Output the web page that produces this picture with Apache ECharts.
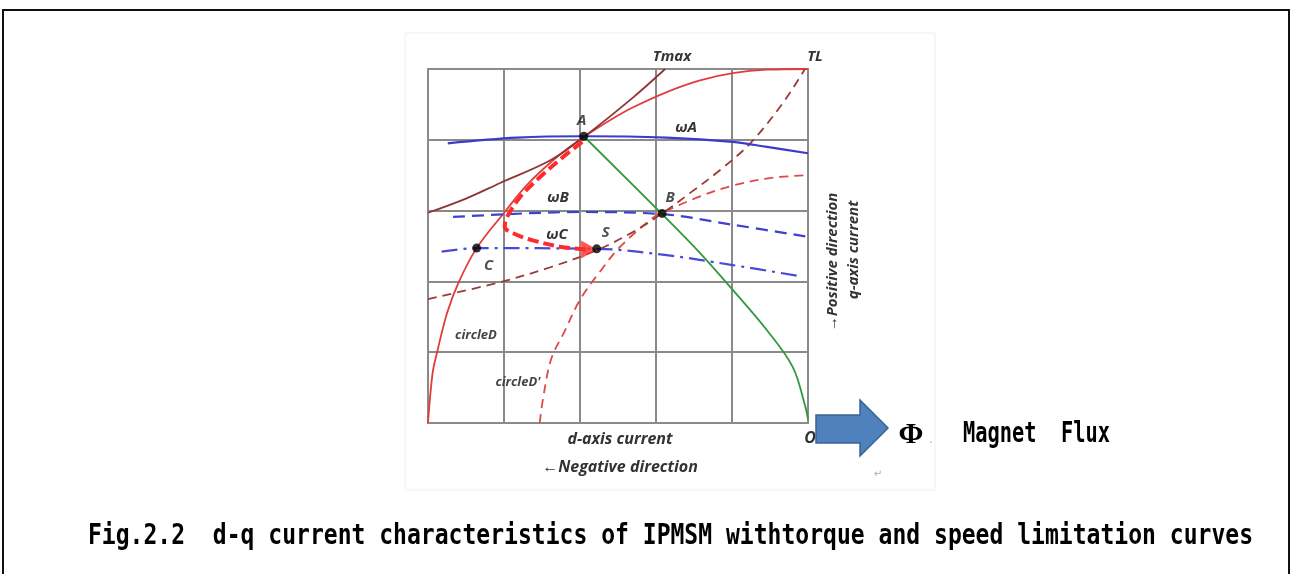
<!DOCTYPE html>
<html>
<head>
<meta charset="utf-8">
<script src="https://cdn.jsdelivr.net/npm/echarts@6/dist/echarts.min.js"></script>
<style>
  html, body { margin: 0; padding: 0; background: #ffffff; }
  #main { width: 1293px; height: 574px; }
</style>
</head>
<body>
<div id="main"></div>
<script>
// d-q current plane: x = d-axis current (negative to the left), y = q-axis current
const xTicks = [-5, -4, -3, -2, -1, 0];
const yTicks = [0, 1, 2, 3, 4, 5];

// current limit circle D (solid red)
const circleD = [[-5.00,0.00],[-4.94,0.70],[-4.88,1.00],[-4.75,1.55],[-4.60,1.98],[-4.36,2.47],
  [-3.99,2.98],[-3.70,3.36],[-3.30,3.76],[-2.95,4.04],[-2.30,4.46],[-1.42,4.84],[-0.54,4.99],[0.00,5.00]];
// reduced circle D' (dashed red)
const circleD2 = [[-3.53,0.00],[-3.49,0.32],[-3.38,0.90],[-3.20,1.30],[-3.00,1.74],[-2.75,2.12],
  [-2.47,2.49],[-2.04,2.90],[-1.92,2.97],[-1.42,3.20],[-1.00,3.35],[-0.50,3.46],[0.00,3.50]];
// maximum torque curve Tmax
const tmax = [[-5.00,2.97],[-4.50,3.17],[-4.05,3.39],[-3.39,3.71],[-2.95,4.04],[-2.30,4.60],[-1.88,5.00]];
// load torque curve TL
const tl = [[-5.00,1.75],[-4.05,1.99],[-3.39,2.20],[-2.78,2.44],[-2.30,2.70],[-1.92,2.96],
  [-1.55,3.25],[-1.16,3.57],[-0.76,3.95],[-0.33,4.52],[-0.04,5.00]];
// voltage limit curves for speeds ωA, ωB, ωC
const omegaA = [[-4.74,3.95],[-3.83,4.03],[-2.95,4.05],[-1.86,4.03],[-0.99,3.97],[-0.54,3.90],[0.00,3.81]];
const omegaB = [[-4.67,2.91],[-3.00,2.98],[-1.92,2.95],[-0.99,2.80],[0.00,2.63]];
const omegaC = [[-4.82,2.42],[-4.36,2.47],[-2.78,2.46],[-1.86,2.37],[-0.99,2.23],[-0.14,2.08]];
// maximum torque per flux line
const mtpf = [[-2.95,4.05],[-1.92,2.95],[-1.42,2.40],[-0.99,1.88],[-0.54,1.31],[-0.20,0.79],[-0.04,0.25],[0.00,0.05]];
// operating point transition A -> S
const transition = [[-2.97,3.97],[-3.22,3.76],[-3.53,3.47],[-3.79,3.19],[-3.96,2.91],[-3.99,2.77],
  [-3.88,2.68],[-3.62,2.58],[-3.26,2.49],[-2.92,2.45]];
const arrowTip = [[-2.88,2.45]];
// marked operating points
const pointNames = ['A', 'B', 'C', 'S'];
const pointValues = [[-2.95,4.05],[-1.92,2.96],[-4.36,2.47],[-2.78,2.46]];

const caption = 'Fig.2.2  d-q current characteristics of IPMSM withtorque and speed limitation curves';

const chart = echarts.init(document.getElementById('main'), null, { renderer: 'canvas' });

function fitScale(text, font, width) {
  const ctx = document.createElement('canvas').getContext('2d');
  ctx.font = font;
  return width / ctx.measureText(text).width;
}

const plotFont = 'italic bold 15px "Open Sans", "DejaVu Sans", sans-serif';
const gothic = 'bold 28px "DejaVu Sans Mono", monospace';
const labelColor = '#333333';

function line(data, color, width, type, z) {
  return {
    type: 'line', data: data, showSymbol: false, smooth: 0.35, silent: true,
    lineStyle: { color: color, width: width, type: type || 'solid' }, z: z || 2
  };
}

function plotText(text, x, y, extra) {
  return Object.assign({
    type: 'text', x: x, y: y, z: 20,
    style: { text: text, font: plotFont, fill: labelColor, align: 'center', verticalAlign: 'middle' }
  }, extra || {});
}

const labelPos = {
  A: { position: 'top', offset: [-2, 0] },
  B: { position: 'top', offset: [8, 0] },
  C: { position: 'bottom', offset: [12, 2] },
  S: { position: 'top', offset: [9, 0] }
};

const option = {
  animation: false,
  backgroundColor: '#ffffff',
  grid: { left: 428, top: 69, width: 380, height: 354, show: true, borderColor: '#8a8a8a', borderWidth: 2 },
  xAxis: {
    type: 'value', min: xTicks[0], max: xTicks[xTicks.length - 1], interval: 1,
    axisLabel: { show: false }, axisTick: { show: false }, axisLine: { show: false },
    splitLine: { show: true, lineStyle: { color: '#8a8a8a', width: 2 } }
  },
  yAxis: {
    type: 'value', min: yTicks[0], max: yTicks[yTicks.length - 1], interval: 1,
    axisLabel: { show: false }, axisTick: { show: false }, axisLine: { show: false },
    splitLine: { show: true, lineStyle: { color: '#8a8a8a', width: 2 } }
  },
  series: [
    line(circleD, '#e23b3b', 1.8),
    line(circleD2, '#e04848', 1.8, [9, 6]),
    line(tmax, '#8e3434', 1.8),
    line(tl, '#9a3a3a', 1.8, [9, 6]),
    line(omegaA, '#3b3bcc', 2.2),
    line(omegaB, '#4040d0', 2.2, [12, 7]),
    line(omegaC, '#4a4ad6', 2.2, [16, 6, 3, 6]),
    line(mtpf, '#2f9a3c', 1.8),
    line(transition, '#ff2a2a', 4, [11, 5], 5),
    {
      type: 'scatter', data: arrowTip, symbol: 'triangle', symbolRotate: -90,
      symbolSize: [18, 16], itemStyle: { color: '#ff2a2a' }, silent: true, z: 6
    },
    {
      type: 'scatter', silent: true, z: 8, symbolSize: 9,
      itemStyle: { color: '#000000' },
      data: pointNames.map((n, i) => ({
        name: n, value: pointValues[i],
        label: Object.assign({
          show: true, formatter: '{b}', distance: 4,
          color: '#222222', fontSize: 15, fontStyle: 'italic', fontWeight: 'bold',
          fontFamily: '"Open Sans", "DejaVu Sans", sans-serif'
        }, labelPos[n])
      }))
    }
  ],
  graphic: [
    // outer frame
    { type: 'rect', z: 0, shape: { x: 3, y: 10, width: 1286, height: 600 },
      style: { fill: 'none', stroke: '#111111', lineWidth: 2 } },
    // faint picture boundary
    { type: 'rect', z: 0, shape: { x: 405, y: 33, width: 530, height: 457 },
      style: { fill: 'none', stroke: '#eeeeee', lineWidth: 1 } },
    plotText('Tmax', 672, 57),
    plotText('TL', 815, 57),
    plotText('ωA', 686, 128),
    plotText('ωB', 558, 198),
    plotText('ωC', 557, 235),
    plotText('circleD', 476, 335, { style: { text: 'circleD', font: 'italic bold 13px "Open Sans", sans-serif', fill: '#444', align: 'center', verticalAlign: 'middle' } }),
    plotText("circleD'", 518, 382, { style: { text: "circleD'", font: 'italic bold 13px "Open Sans", sans-serif', fill: '#444', align: 'center', verticalAlign: 'middle' } }),
    plotText('O', 810, 438, { z: 9, style: { text: 'O', font: 'italic bold 16px "Open Sans", sans-serif', fill: '#333', align: 'center', verticalAlign: 'middle' } }),
    plotText('d-axis current', 620, 439, { style: { text: 'd-axis current', font: 'italic bold 16px "Open Sans", sans-serif', fill: labelColor, align: 'center', verticalAlign: 'middle' } }),
    plotText('←Negative direction', 620, 467, { style: { text: '←Negative direction', font: 'italic bold 16px "Open Sans", sans-serif', fill: labelColor, align: 'center', verticalAlign: 'middle' } }),
    plotText('→Positive direction', 833, 262, { rotation: Math.PI / 2, style: { text: '→Positive direction', font: 'italic bold 15px "Open Sans", sans-serif', fill: labelColor, align: 'center', verticalAlign: 'middle' } }),
    plotText('q-axis current', 854, 250, { rotation: Math.PI / 2, style: { text: 'q-axis current', font: 'italic bold 15px "Open Sans", sans-serif', fill: labelColor, align: 'center', verticalAlign: 'middle' } }),
    // flux direction arrow
    { type: 'polygon', z: 10,
      shape: { points: [[816,415],[860,415],[860,400],[888,428],[860,456],[860,443],[816,443]] },
      style: { fill: '#4f81bd', stroke: '#3a6394', lineWidth: 1.5 } },
    { type: 'text', x: 911, y: 435, z: 10,
      style: { text: 'Φ', font: 'bold 30px "Liberation Serif", serif', fill: '#000', align: 'center', verticalAlign: 'middle' } },
    { type: 'text', x: 931, y: 440, z: 10,
      style: { text: '.', font: '12px sans-serif', fill: '#aaa', align: 'center', verticalAlign: 'middle' } },
    { type: 'text', x: 878, y: 474, z: 10,
      style: { text: '↵', font: '10px "DejaVu Sans", sans-serif', fill: '#aaa', align: 'center', verticalAlign: 'middle' } },
    { type: 'text', x: 963, y: 435, z: 10, scaleX: fitScale('Magnet  Flux', gothic, 147),
      style: { text: 'Magnet  Flux', font: gothic, fill: '#000', align: 'left', verticalAlign: 'middle' } },
    { type: 'text', x: 88, y: 537, z: 10, scaleX: fitScale(caption, gothic, 1165),
      style: { text: caption, font: gothic, fill: '#000', align: 'left', verticalAlign: 'middle' } }
  ]
};

chart.setOption(option);
</script>
</body>
</html>
